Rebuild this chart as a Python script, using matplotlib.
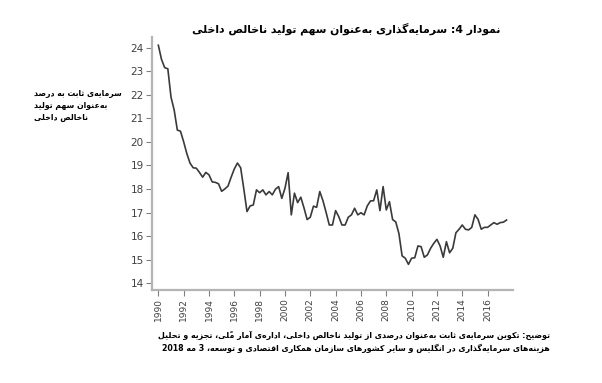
import numpy as np
from matplotlib import pyplot as plt

# taux d'investissement trimestriel (% du PIB), 1990T1 -> 2017T3
start_year = 1990
values = [24.1, 23.5, 23.15, 23.1, 21.9, 21.35, 20.5, 20.45, 20.0, 19.5,
          19.1, 18.9, 18.88, 18.7, 18.5, 18.7, 18.6, 18.3, 18.28, 18.22,
          17.9, 18.0, 18.12, 18.5, 18.85, 19.1, 18.9, 18.0, 17.04, 17.28,
          17.32, 17.96, 17.84, 17.96, 17.75, 17.89, 17.75, 17.99, 18.1, 17.6,
          18.03, 18.69, 16.9, 17.82, 17.42, 17.65, 17.2, 16.7, 16.8, 17.27,
          17.22, 17.89, 17.5, 17.0, 16.47, 16.47, 17.08, 16.82, 16.47, 16.47,
          16.8, 16.9, 17.18, 16.9, 16.99, 16.9, 17.28, 17.49, 17.5, 17.96,
          17.08, 18.1, 17.11, 17.46, 16.7, 16.6, 16.1, 15.16, 15.06, 14.8,
          15.06, 15.08, 15.58, 15.55, 15.1, 15.2, 15.48, 15.69, 15.86, 15.58,
          15.1, 15.76, 15.29, 15.48, 16.14, 16.29, 16.47, 16.29, 16.26, 16.37,
          16.9, 16.71, 16.29, 16.37, 16.37, 16.47, 16.57, 16.5, 16.57, 16.59,
          16.68]
x_ticks = list(range(1990, 2017, 2))
y_ticks = list(range(14, 25))

title = 'نمودار 4: سرمایه\u200cگذاری به\u200cعنوان سهم تولید ناخالص داخلی'
ylabel_lines = ['سرمایه\u200cی ثابت به درصد', 'به\u200cعنوان سهم تولید', 'ناخالص داخلی']
note_lines = ['توضیح: تکوین سرمایه\u200cی ثابت به\u200cعنوان درصدی از تولید ناخالص داخلی، اداره\u200cی آمار ملّی، تجزیه و تحلیل',
              'هزینه\u200cهای سرمایه\u200cگذاری در انگلیس و سایر کشورهای سازمان همکاری اقتصادی و توسعه، 3 مه 2018']

# --- mise en forme arabe/persane (matplotlib ne le fait pas) ---
FORMS = {
    'ا': 'ﺍﺎ', 'آ': 'ﺁﺂ', 'د': 'ﺩﺪ', 'ذ': 'ﺫﺬ', 'ر': 'ﺭﺮ', 'ز': 'ﺯﺰ',
    'ژ': 'ﮊﮋ', 'و': 'ﻭﻮ',
    'ب': 'ﺏﺐﺑﺒ', 'ت': 'ﺕﺖﺗﺘ', 'ث': 'ﺙﺚﺛﺜ', 'ج': 'ﺝﺞﺟﺠ', 'ح': 'ﺡﺢﺣﺤ',
    'خ': 'ﺥﺦﺧﺨ', 'س': 'ﺱﺲﺳﺴ', 'ش': 'ﺵﺶﺷﺸ', 'ص': 'ﺹﺺﺻﺼ', 'ض': 'ﺽﺾﺿﻀ',
    'ط': 'ﻁﻂﻃﻄ', 'ظ': 'ﻅﻆﻇﻈ', 'ع': 'ﻉﻊﻋﻌ', 'غ': 'ﻍﻎﻏﻐ', 'ف': 'ﻑﻒﻓﻔ',
    'ق': 'ﻕﻖﻗﻘ', 'ل': 'ﻝﻞﻟﻠ', 'م': 'ﻡﻢﻣﻤ', 'ن': 'ﻥﻦﻧﻨ', 'ه': 'ﻩﻪﻫﻬ',
    'ی': 'ﯼﯽﯾﯿ', 'ک': 'ﮎﮏﮐﮑ', 'گ': 'ﮒﮓﮔﮕ', 'پ': 'ﭖﭗﭘﭙ', 'چ': 'ﭺﭻﭼﭽ',
}
MARKS = '\u064b\u064c\u064d\u064e\u064f\u0650\u0651\u0652'


def shape_rtl(run):
    clusters = []
    for c in run:
        if c in MARKS and clusters:
            clusters[-1][1] += c
        else:
            clusters.append([c, ''])
    out = []
    for j, (c, m) in enumerate(clusters):
        f = FORMS.get(c)
        if f is None:
            if c != '\u200c':
                out.append(c + m)
            continue
        prev = clusters[j - 1][0] if j > 0 else ''
        nxt = clusters[j + 1][0] if j + 1 < len(clusters) else ''
        jp = prev in FORMS and len(FORMS[prev]) == 4
        jn = len(f) == 4 and nxt in FORMS
        if jp and jn:
            g = f[3]
        elif jp:
            g = f[1]
        elif jn:
            g = f[2]
        else:
            g = f[0]
        out.append(g + m)
    return ''.join(out[::-1])


def fa(text):
    runs, cur, is_dig = [], '', None
    for c in text:
        d = c.isdigit()
        if is_dig is not None and d != is_dig:
            runs.append((cur, is_dig))
            cur = ''
        cur += c
        is_dig = d
    runs.append((cur, is_dig))
    return ''.join(r if d else shape_rtl(r) for r, d in runs[::-1])


plt.rcParams['font.family'] = ['DejaVu Sans']

fig = plt.figure(figsize=(6.02, 3.83), dpi=100)
ax = fig.add_axes([0.2525, 0.2428, 0.5995, 0.6606])

x = start_year + np.arange(len(values)) / 4
ax.plot(x, values, color='#3a3a3a', lw=1.2)

ax.set_xlim(1989.5, 2018.0)
ax.set_ylim(13.71, 24.45)
ax.set_xticks(x_ticks)
ax.set_yticks(y_ticks)
ax.tick_params(axis='x', labelrotation=90, labelsize=6.5, length=4, color='#808080', labelcolor='#404040', pad=2)
ax.tick_params(axis='y', labelsize=7.5, length=4, color='#808080', labelcolor='#404040', pad=2)
for s in ['top', 'right']:
    ax.spines[s].set_visible(False)
for s in ['left', 'bottom']:
    ax.spines[s].set_color('#b4b4b4')
    ax.spines[s].set_linewidth(1.6)

fig.text(500 / 602, 1 - 29 / 383, fa(title), ha='right', va='center', fontsize=7.8, fontweight='bold')

for k, line in enumerate(ylabel_lines):
    fig.text(34 / 602, 1 - (93 + 12.5 * k) / 383, fa(line), ha='left', va='center', fontsize=5.6, fontweight='bold')

for k, line in enumerate(note_lines):
    fig.text(550 / 602, 1 - (335 + 13 * k) / 383, fa(line), ha='right', va='center', fontsize=5.65, fontweight='bold')

fig.savefig('out.png', dpi=100)
